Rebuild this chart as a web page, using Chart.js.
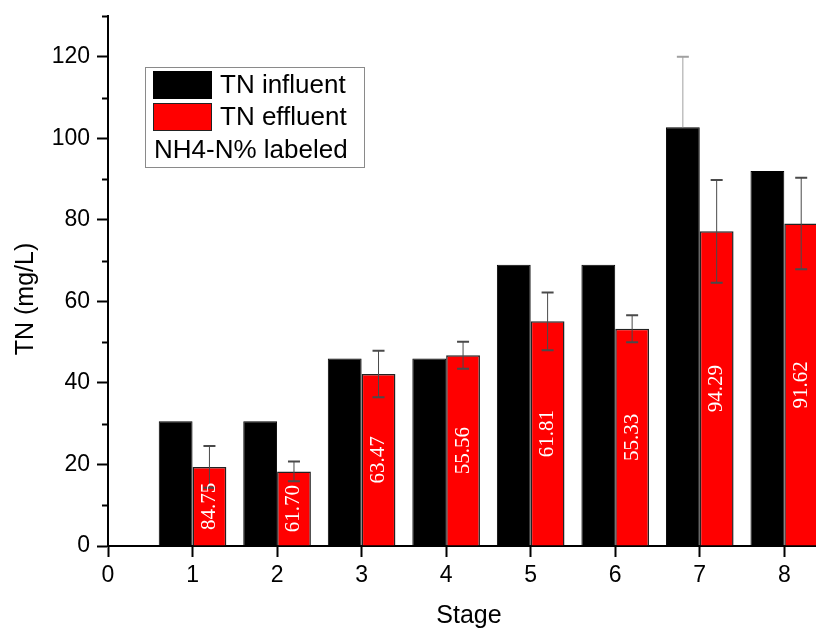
<!DOCTYPE html>
<html>
<head>
<meta charset="utf-8">
<script src="https://cdn.jsdelivr.net/npm/chart.js@4.4.1/dist/chart.umd.min.js"></script>
<style>
  html, body { margin: 0; padding: 0; background: #fff; }
  #wrap { width: 816px; height: 630px; }
</style>
</head>
<body>
<div id="wrap"><canvas id="grafico" width="816" height="630"></canvas></div>
<script>
// Dados
const stages = [1, 2, 3, 4, 5, 6, 7, 8];
const tnInfluent = [30.6, 30.6, 46.0, 46.0, 69.0, 69.0, 102.7, 92.0];
const tnInfluentErr = [0, 0, 0, 0, 0, 0, 17.3, 0];
const tnEffluent = [19.4, 18.3, 42.2, 46.8, 55.1, 53.3, 77.2, 79.1];
const tnEffluentErr = [5.1, 2.4, 5.7, 3.3, 7.1, 3.3, 12.6, 11.2];
const nh4Labels = ['84.75', '61.70', '63.47', '55.56', '61.81', '55.33', '94.29', '91.62'];
const xTicks = [0, 1, 2, 3, 4, 5, 6, 7, 8];
const yTicks = [0, 20, 40, 60, 80, 100, 120];
const yMinorTicks = [10, 30, 50, 70, 90, 110, 130];

const sans = '"Liberation Sans", Arial, sans-serif';
const serif = '"Liberation Serif", "Times New Roman", serif';

// Barras de erro
const errorBarsPlugin = {
    id: 'errorBars',
    afterDatasetsDraw(chart) {
        const ctx = chart.ctx;
        const y = chart.scales.y;
        const cap = 6;

        function desenhar(xPix, val, err, color, upOnly) {
            if (!err) return;
            const top = y.getPixelForValue(val + err);
            const bot = upOnly ? y.getPixelForValue(val) : y.getPixelForValue(val - err);
            ctx.save();
            ctx.strokeStyle = color;
            ctx.lineWidth = 1;
            ctx.beginPath();
            ctx.moveTo(xPix, top);
            ctx.lineTo(xPix, bot);
            ctx.stroke();
            ctx.lineWidth = 2;
            ctx.beginPath();
            ctx.moveTo(xPix - cap, top);
            ctx.lineTo(xPix + cap, top);
            if (!upOnly) {
                ctx.moveTo(xPix - cap, bot);
                ctx.lineTo(xPix + cap, bot);
            }
            ctx.stroke();
            ctx.restore();
        }

        chart.getDatasetMeta(0).data.forEach((el, i) => {
            desenhar(el.x, tnInfluent[i], tnInfluentErr[i], '#a0a0a0', true);
        });
        chart.getDatasetMeta(1).data.forEach((el, i) => {
            desenhar(el.x, tnEffluent[i], tnEffluentErr[i], '#4a4a4a', false);
        });
    }
};

// Rótulos NH4-N% dentro das barras vermelhas
const barLabelsPlugin = {
    id: 'barLabels',
    afterDatasetsDraw(chart) {
        const ctx = chart.ctx;
        const y = chart.scales.y;
        ctx.save();
        ctx.fillStyle = '#fff';
        ctx.font = '21px ' + serif;
        ctx.textAlign = 'center';
        ctx.textBaseline = 'middle';
        chart.getDatasetMeta(1).data.forEach((el, i) => {
            const yPix = y.getPixelForValue(tnEffluent[i] / 2);
            ctx.save();
            ctx.translate(el.x, yPix);
            ctx.rotate(-Math.PI / 2);
            ctx.fillText(nh4Labels[i], 0, 0);
            ctx.restore();
        });
        ctx.restore();
    }
};

// Ticks menores, títulos dos eixos e legenda
const extrasPlugin = {
    id: 'extras',
    afterDraw(chart) {
        const ctx = chart.ctx;
        const ca = chart.chartArea;
        const y = chart.scales.y;

        ctx.save();
        ctx.strokeStyle = '#000';
        ctx.lineWidth = 2;
        yMinorTicks.forEach(v => {
            const p = Math.round(y.getPixelForValue(v)) + 0.5;
            ctx.beginPath();
            ctx.moveTo(ca.left - 6, p);
            ctx.lineTo(ca.left, p);
            ctx.stroke();
        });

        // títulos
        ctx.fillStyle = '#000';
        ctx.font = '25px ' + sans;
        ctx.textAlign = 'center';
        ctx.textBaseline = 'alphabetic';
        ctx.fillText('Stage', 469, 623);
        ctx.save();
        ctx.translate(33, 299);
        ctx.rotate(-Math.PI / 2);
        ctx.fillText('TN (mg/L)', 0, 0);
        ctx.restore();

        // legenda
        const lx = ca.left + 37;
        const ly = ca.top + 51;
        ctx.fillStyle = '#fff';
        ctx.fillRect(lx, ly, 219, 100);
        ctx.strokeStyle = '#8a8a8a';
        ctx.lineWidth = 1;
        ctx.strokeRect(lx + 0.5, ly + 0.5, 219, 100);

        const ds = chart.data.datasets;
        ctx.fillStyle = ds[0].backgroundColor;
        ctx.fillRect(lx + 8, ly + 4, 59, 28);
        ctx.fillStyle = ds[1].backgroundColor;
        ctx.fillRect(lx + 8, ly + 36, 59, 28);
        ctx.strokeStyle = '#222';
        ctx.lineWidth = 1;
        ctx.strokeRect(lx + 8.5, ly + 36.5, 58, 27);

        ctx.fillStyle = '#000';
        ctx.font = '26px ' + sans;
        ctx.textAlign = 'left';
        ctx.textBaseline = 'middle';
        ctx.fillText(ds[0].label, lx + 75, ly + 19);
        ctx.fillText(ds[1].label, lx + 75, ly + 51);
        ctx.fillText('NH4-N% labeled', lx + 9, ly + 84);
        ctx.restore();
    }
};

const ctx = document.getElementById('grafico').getContext('2d');

new Chart(ctx, {
    type: 'bar',
    data: {
        datasets: [{
            label: 'TN influent',
            data: stages.map((s, i) => ({ x: s, y: tnInfluent[i] })),
            backgroundColor: '#000000',
            borderColor: '#000000',
            borderWidth: 1
        }, {
            label: 'TN effluent',
            data: stages.map((s, i) => ({ x: s, y: tnEffluent[i] })),
            backgroundColor: '#ff0000',
            borderColor: '#222222',
            borderWidth: 1.5
        }]
    },
    options: {
        responsive: false,
        animation: false,
        categoryPercentage: 0.8,
        barPercentage: 1.0,
        layout: {
            padding: { top: 16, left: 0, right: 0, bottom: 0 }
        },
        plugins: {
            legend: { display: false },
            tooltip: { enabled: false }
        },
        scales: {
            x: {
                type: 'linear',
                min: 0,
                max: 8.375,
                offset: false,
                grid: {
                    offset: false,
                    drawOnChartArea: false,
                    drawTicks: true,
                    tickLength: 11,
                    tickColor: '#000',
                    tickWidth: 2
                },
                border: { display: true, color: '#000', width: 2 },
                ticks: {
                    font: { family: sans, size: 23 },
                    color: '#000',
                    padding: 5,
                    maxRotation: 0,
                    autoSkip: false
                },
                afterBuildTicks: scale => {
                    scale.ticks = xTicks.map(v => ({ value: v }));
                },
                afterFit: scale => {
                    scale.height = 84;
                    scale.paddingLeft = 0;
                    scale.paddingRight = 0;
                }
            },
            y: {
                min: 0,
                max: 130,
                grid: {
                    drawOnChartArea: false,
                    drawTicks: true,
                    tickLength: 11,
                    tickColor: '#000',
                    tickWidth: 2
                },
                border: { display: true, color: '#000', width: 2 },
                ticks: {
                    font: { family: sans, size: 23 },
                    color: '#000',
                    padding: 7
                },
                afterBuildTicks: scale => {
                    scale.ticks = yTicks.map(v => ({ value: v }));
                },
                afterFit: scale => {
                    scale.width = 108;
                    scale.paddingTop = 0;
                    scale.paddingBottom = 0;
                }
            }
        }
    },
    plugins: [errorBarsPlugin, barLabelsPlugin, extrasPlugin]
});
</script>
</body>
</html>
